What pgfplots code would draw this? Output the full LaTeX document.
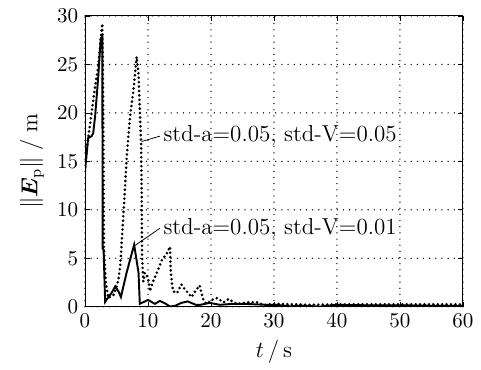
\documentclass[border=0pt]{standalone}
\usepackage{amsmath}
\usepackage{bm}
\usepackage{pgfplots}
\pgfplotsset{compat=1.18}
\begin{document}
\begin{tikzpicture}
\begin{axis}[
  scale only axis,
  width=196.5pt, height=151.2pt,
  xmin=0, xmax=60, ymin=0, ymax=30,
  xtick={0,10,...,60}, ytick={0,5,...,30},
  tick align=inside,
  major tick length=2.5pt,
  tick style={black, line width=0.4pt},
  grid=major,
  major grid style={black, line width=0.75pt, line cap=round, dash pattern=on 0pt off 3.2pt},
  axis line style={black, line width=0.5pt},
  tick label style={font=\fontsize{11}{13}\selectfont},
  label style={font=\fontsize{12}{14}\selectfont},
  xlabel={$t\,/\,\mathrm{s}$},
  ylabel={$\|\boldsymbol{E}_{\mathrm{p}}\|\;/\;\mathrm{m}$},
  clip=true,
]
% std-V=0.05 (dotted)
\addplot[black, line width=1.5pt, line cap=round, dash pattern=on 0pt off 2.3pt] coordinates {
(0,14) (0.25,16.2) (0.8,18.8) (1.1,20.3) (1.6,22.7) (2.1,24.8) (2.5,27.7) (2.75,29.2)
(2.9,20) (3.0,6) (3.3,2.5) (3.7,0.9) (4.5,1.2) (5.0,2.0) (5.3,2.8) (5.6,4.3) (5.8,6.4)
(6.3,11.7) (6.6,15.2) (7.1,19.3) (7.7,22.4) (8.2,25.8) (8.5,24.0) (8.7,20.3) (8.9,16.9)
(9.0,12) (9.05,5.5) (9.25,2.6) (9.5,3.5) (10.0,3.0) (10.3,1.6) (10.8,2.6) (11.4,3.5)
(12.2,4.8) (13.0,5.5) (13.5,6.2) (13.6,3.8) (13.8,2.4) (14.0,1.6) (14.6,1.4) (15.3,2.3)
(15.9,1.75) (16.4,1.4) (16.9,1.0) (17.5,1.6) (18.2,2.2) (18.5,1.4) (18.8,0.7) (19.3,0.3)
(20.1,0.7) (21.0,0.9) (22.0,0.45) (22.8,0.8) (23.4,0.55) (24.1,0.28) (25.1,0.38)
(26.2,0.48) (27.4,0.45) (28.3,0.18) (30,0.3) (33,0.25) (36,0.2) (40,0.25) (45,0.25)
(50,0.25) (55,0.25) (60,0.25)
};
% std-V=0.01 (solid)
\addplot[black, line width=1pt] coordinates {
(0,14) (0.5,17.4) (1.05,17.6) (1.3,17.9) (1.6,19.6) (2.1,23.7) (2.5,27.7) (2.75,27.9)
(2.8,6) (2.95,5.9) (3.2,0.5) (3.7,1.0) (4.2,1.4) (4.8,2.1) (5.3,1.6) (5.7,1.0)
(6.6,3.5) (7.8,6.4) (8.5,3.5) (8.7,0.3) (9.5,0.55) (10.0,0.7) (11.1,0.3) (11.9,0.6)
(12.7,0.35) (13.5,0.02) (14.3,0.1) (15.3,0.4) (16.3,0.55) (17.6,0.2) (18.3,0.2)
(19.8,0.4) (21.4,0.2) (23.5,0.3) (25.1,0.3) (28.8,0.2) (30.4,0.2) (32.5,0.05)
(34.6,0.1) (37.3,0.02) (39.9,0.2) (45,0.15) (50,0.15) (55,0.1) (60,0.1)
};
\draw[black, line width=0.4pt] (axis cs:9.0,17.05) -- (axis cs:11.9,17.6);
\node[anchor=west, inner sep=1pt, font=\fontsize{12}{14}\selectfont] at (axis cs:12.1,17.6) {std-a=0.05, std-V=0.05};
\draw[black, line width=0.4pt] (axis cs:7.9,6.3) -- (axis cs:11.9,8.1);
\node[anchor=west, inner sep=1pt, font=\fontsize{12}{14}\selectfont] at (axis cs:12.1,8.0) {std-a=0.05, std-V=0.01};
\end{axis}
\path ([shift={(-44.2pt,-32.2pt)}]current axis.south west) rectangle ([shift={(9.4pt,8.3pt)}]current axis.north east);
\end{tikzpicture}
\end{document}
